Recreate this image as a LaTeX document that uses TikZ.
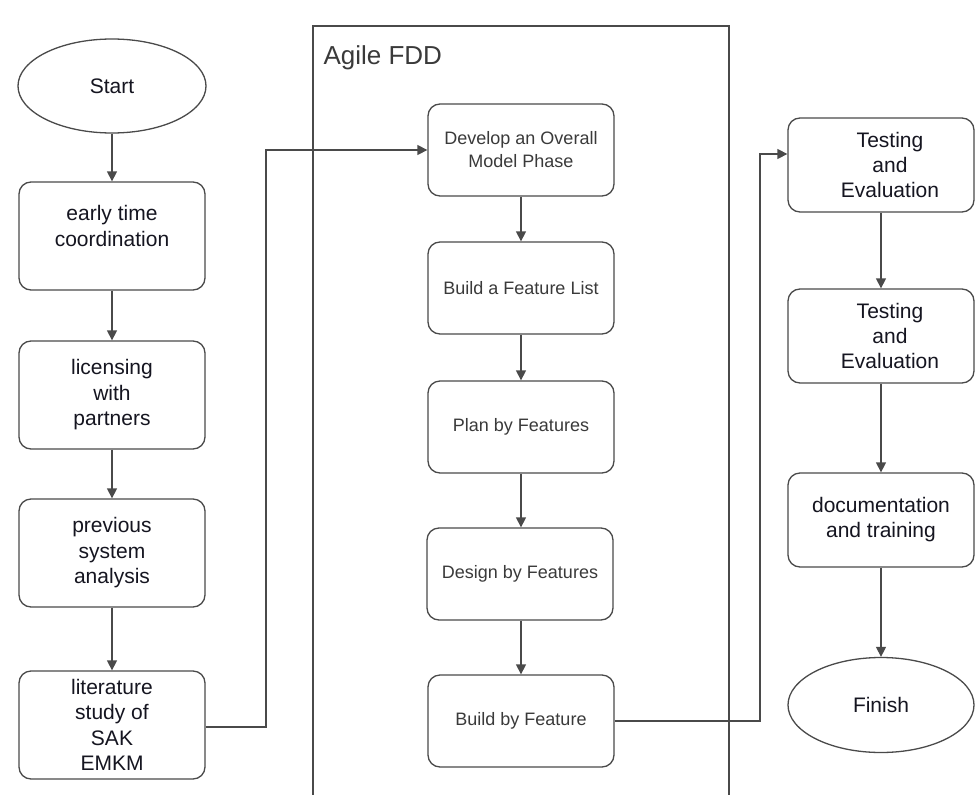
\documentclass[tikz,border=0pt]{standalone}
\usepackage{fontspec}
\setmainfont{Liberation Sans}
\usetikzlibrary{arrows.meta,shapes.geometric}
\definecolor{linegray}{HTML}{4A4A4A}
\definecolor{txtdark}{HTML}{151520}
\definecolor{txtmid}{HTML}{3A3A3A}
\begin{document}
\begin{tikzpicture}[x=1pt,y=-1pt,
  base/.style={draw=linegray, line width=1.3pt, fill=white, align=center, inner sep=0pt},
  lbox/.style={base, rounded corners=12pt, minimum width=186pt, minimum height=108pt, text=txtdark, font=\fontsize{21}{25.5}\selectfont},
  mbox/.style={base, rounded corners=12pt, minimum width=186pt, minimum height=92pt, text=txtmid, font=\fontsize{18}{23}\selectfont},
  rbox/.style={base, rounded corners=12pt, minimum width=186pt, minimum height=94pt, text=txtdark, font=\fontsize{21}{25}\selectfont},
  term/.style={base, ellipse, minimum width=188pt, minimum height=94pt, text=txtdark, font=\fontsize{21}{25}\selectfont},
  arr/.style={draw=linegray, line width=1.3pt, -{Triangle[length=10pt,width=10pt]}},
  frameline/.style={draw=linegray, line width=1.3pt}
]
\useasboundingbox (0,0) rectangle (975,795);

% Agile FDD frame
\draw[frameline] (313,800) -- (313,26) -- (729,26) -- (729,800);
\node[anchor=west, text=txtmid, font=\fontsize{26}{30}\selectfont] (fddlabel) at (320,58) {Agile FDD};

% left column
\node[term] (start) at (112,86) {Start};
\node[lbox, text depth=20pt] (early) at (112,236) {early time\\coordination};
\node[lbox] (lic) at (112,395) {licensing\\with\\partners};
\node[lbox] (prev) at (112,553) {previous\\system\\analysis};
\node[lbox] (lit) at (112,725) {literature\\study of\\SAK\\EMKM};

% middle column
\node[mbox] (dev) at (521,150) {Develop an Overall\\Model Phase};
\node[mbox] (list) at (521,288) {Build a Feature List};
\node[mbox] (plan) at (521,427) {Plan by Features};
\node[mbox] (design) at (520,574) {Design by Features};
\node[mbox] (build) at (521,721) {Build by Feature};

% right column
\node[rbox] (test1) at (881,165) {\hspace*{18pt}Testing\\\hspace*{18pt}and\\\hspace*{18pt}Evaluation};
\node[rbox] (test2) at (881,336) {\hspace*{18pt}Testing\\\hspace*{18pt}and\\\hspace*{18pt}Evaluation};
\node[rbox] (doc) at (881,520) {documentation\\and training};
\node[term, minimum width=186pt, minimum height=95pt] (finish) at (881,705) {Finish};

% bend points
\coordinate (c1) at (266,727);
\coordinate (c2) at (760,721);

% connectors
\draw[arr] (start) -- (early);
\draw[arr] (early) -- (lic);
\draw[arr] (lic) -- (prev);
\draw[arr] (prev) -- (lit);
\draw[arr] (lit.east |- c1) -- (c1) |- (dev.west);

\draw[arr] (dev) -- (list);
\draw[arr] (list) -- (plan);
\draw[arr] (plan) -- (design.north -| plan.south);
\draw[arr] (design.south -| build.north) -- (build);
\draw[arr] (build.east) -- (c2) |- ([yshift=11pt]test1.west);

\draw[arr] (test1) -- (test2);
\draw[arr] (test2) -- (doc);
\draw[arr] (doc) -- (finish);
\end{tikzpicture}
\end{document}
